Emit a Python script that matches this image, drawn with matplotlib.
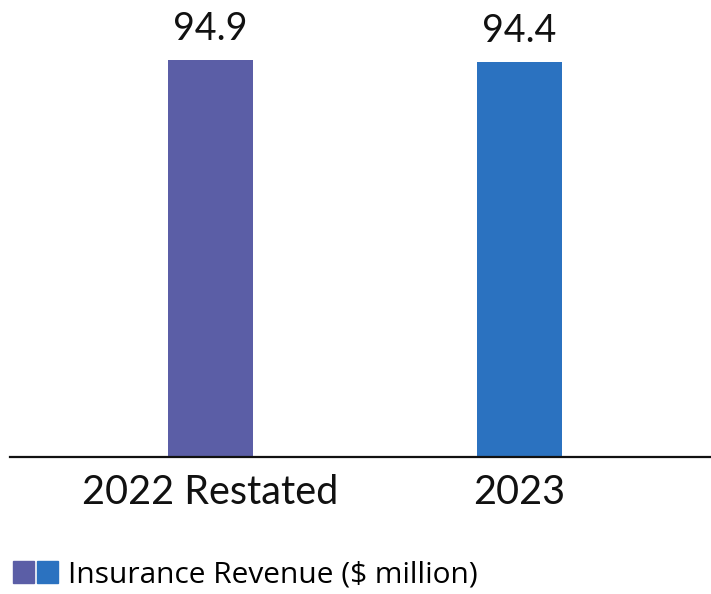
import matplotlib
matplotlib.use('Agg')
import matplotlib.pyplot as plt
from matplotlib.patches import Patch
from matplotlib.legend_handler import HandlerTuple

# chart data
categories = ['2022 Restated', '2023']
values = [94.9, 94.4]
colors = ['#5b5ea6', '#2b72c0']
legend_label = 'Insurance Revenue ($ million)'

plt.rcParams['font.family'] = ['Lato', 'DejaVu Sans']

fig = plt.figure(figsize=(7.11, 5.94), dpi=100)
ax = fig.add_axes([10 / 711, 137 / 594, 701 / 711, 457 / 594])

x = list(range(len(categories)))
bars = ax.bar(x, values, width=0.275, color=colors)

# value labels above bars
for xi, v in zip(x, values):
    ax.text(xi, v + 3.0, f'{v}', ha='center', va='bottom', fontsize=27, color='#111111')

ax.set_xlim(-0.649, 1.62)
ax.set_ylim(0, 109.2)
ax.set_xticks(x)
ax.set_xticklabels(categories, fontsize=28.5, color='#111111')
ax.tick_params(axis='x', length=0, pad=12)
ax.set_yticks([])
for s in ['top', 'right', 'left']:
    ax.spines[s].set_visible(False)
ax.spines['bottom'].set_linewidth(1.6)
ax.spines['bottom'].set_color('#111111')

# legend with two coloured squares
handles = [(Patch(color=colors[0]), Patch(color=colors[1]))]
fig.legend(handles, [legend_label], handler_map={tuple: HandlerTuple(ndivide=None, pad=0.1)},
           loc='lower left', bbox_to_anchor=(0.012, 0.0), frameon=False,
           prop={'family': 'Open Sans', 'size': 21.5},
           handlelength=1.5, handleheight=0.75, handletextpad=0.35,
           borderaxespad=0.0, borderpad=0.15)

plt.savefig('out.png', dpi=100)
